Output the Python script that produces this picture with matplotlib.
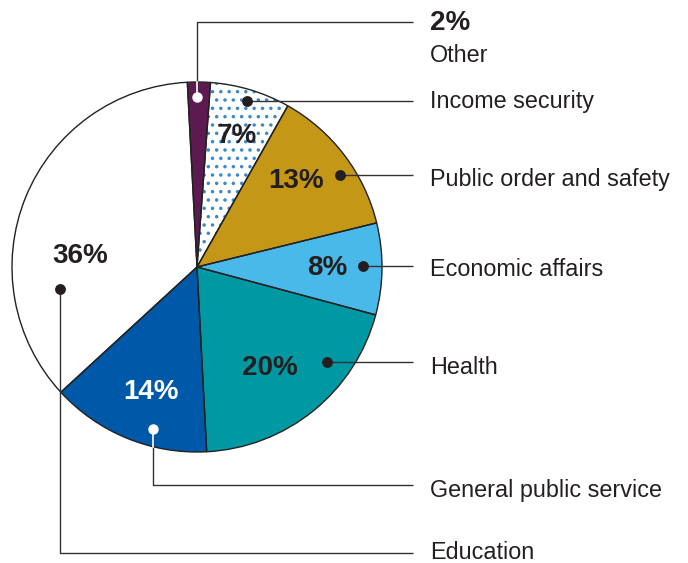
import numpy as np
import matplotlib.pyplot as plt

plt.rcParams['font.family'] = ['Liberation Sans', 'DejaVu Sans']
plt.rcParams['hatch.linewidth'] = 1.3

categories = ['Other', 'Income security', 'Public order and safety', 'Economic affairs',
              'Health', 'General public service', 'Education']
shares = [2, 7, 13, 8, 20, 14, 36]
pct_labels = ['2%', '7%', '13%', '8%', '20%', '14%', '36%']
colors = ['#5c1a50', 'white', '#c59717', '#49b9ea', '#0098a3', '#0058a8', 'white']

W, H = 688, 563
cx, cy, r = 197, 267, 185
line_col = '#333333'
text_col = '#231f20'

fig = plt.figure(figsize=(W / 100, H / 100), dpi=100)
ax = fig.add_axes([0, 0, 1, 1])

# y axis is flipped below, so counterclock in data = clockwise on screen
wedges, _ = ax.pie(shares, colors=colors, startangle=-93, counterclock=True,
                   center=(cx, cy), radius=r, frame=True,
                   wedgeprops=dict(linewidth=0))
wedges[1].set_edgecolor('#3c88cc')
wedges[1].set_hatch('..')
ax.pie(shares, colors=['none'] * len(shares), startangle=-93, counterclock=True,
       center=(cx, cy), radius=r, frame=True,
       wedgeprops=dict(linewidth=1.0, edgecolor='#222222', fill=False))

# percentage labels inside slices (x centre, baseline)
pct_pos = [None, (237, 143), (296, 188), (327, 275), (270, 375), (151, 399), (80, 263)]
pct_col = [text_col, text_col, text_col, text_col, text_col, 'white', text_col]
for lab, pos, c in zip(pct_labels, pct_pos, pct_col):
    if pos is None:
        continue
    ax.text(pos[0], pos[1], lab, ha='center', va='baseline', fontsize=20,
            fontweight='bold', color=c, zorder=6)

# leader lines: dot position, path to the label
x_end = 413
dots = [(197, 97), (247, 101), (340, 175), (363, 266), (327, 362), (153, 429), (60, 289)]
line_y = [22, 101, 175, 266, 362, 485, 553]
white_dot = [True, False, False, False, False, True, False]

for (dx, dy), ly, wd in zip(dots, line_y, white_dot):
    xs = [dx, dx, x_end]
    ys = [dy, ly, ly]
    ax.plot(xs, ys, color=line_col, lw=1.0, zorder=3, solid_capstyle='butt')
    if wd:
        # part of the leader inside the pie is white
        half = np.sqrt(r ** 2 - (dx - cx) ** 2)
        edge = cy - half if ly < dy else cy + half
        ax.plot([dx, dx], [dy, edge], color='white', lw=1.2, zorder=4)
        ax.plot(dx, dy, 'o', color='white', ms=6.5, zorder=5)
    else:
        ax.plot(dx, dy, 'o', color=text_col, ms=6.8, zorder=5)

# category labels on the right (baselines)
tx = 430
ax.text(tx, 30, pct_labels[0], ha='left', va='baseline', fontsize=20,
        fontweight='bold', color=text_col)
label_base = [62, 108, 186, 276, 374, 497, 559]
for name, yb in zip(categories, label_base):
    ax.text(tx, yb, name, ha='left', va='baseline', fontsize=16.8, color=text_col)

ax.set_xlim(0, W)
ax.set_ylim(H, 0)
ax.axis('off')

fig.savefig('out.png', dpi=100)
